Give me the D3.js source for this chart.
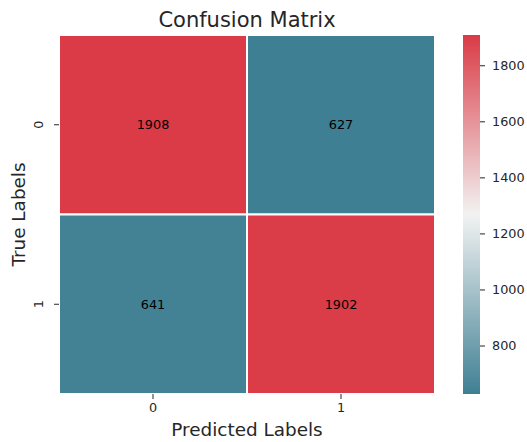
<!DOCTYPE html>
<html>
<head>
<meta charset="utf-8">
<script src="https://cdn.jsdelivr.net/npm/d3@7"></script>
<style>
  body { margin: 0; background: #fff; }
  svg { display: block; font-family: "DejaVu Sans", sans-serif; }
</style>
</head>
<body>
<script>
// data
const predictedLabels = ["0", "1"];
const trueLabels = ["0", "1"];
const counts = [
  [1908, 627],
  [641, 1902]
];
const colorbarTicks = [800, 1000, 1200, 1400, 1600, 1800];

const width = 527;
const height = 442;
const plotLeft = 59, plotRight = 435, plotTop = 35, plotBottom = 394;
const cbLeft = 463, cbRight = 480;

const cells = [];
trueLabels.forEach((t, i) => {
  predictedLabels.forEach((p, j) => {
    cells.push({ t: t, p: p, v: counts[i][j] });
  });
});

const vmin = d3.min(cells, d => d.v);
const vmax = d3.max(cells, d => d.v);

// seaborn diverging_palette(220, 10) look-alike
const color = d3.scaleLinear()
  .domain([vmin, (vmin + vmax) / 2, vmax])
  .range(["#3f7f93", "#f2f2f2", "#da3b46"])
  .interpolate(d3.interpolateRgb);

const x = d3.scaleBand().domain(predictedLabels).range([plotLeft, plotRight]);
const y = d3.scaleBand().domain(trueLabels).range([plotTop, plotBottom]);

const svg = d3.select("body").append("svg")
  .attr("width", width)
  .attr("height", height);

// CELLS
svg.append("g")
  .selectAll("rect")
  .data(cells)
  .enter()
  .append("rect")
  .attr("x", d => x(d.p))
  .attr("y", d => y(d.t))
  .attr("width", x.bandwidth())
  .attr("height", y.bandwidth())
  .attr("fill", d => color(d.v))
  .attr("stroke", "#fff")
  .attr("stroke-width", 2);

// annotations
svg.append("g")
  .selectAll("text")
  .data(cells)
  .enter()
  .append("text")
  .attr("x", d => x(d.p) + x.bandwidth() / 2)
  .attr("y", d => y(d.t) + y.bandwidth() / 2)
  .attr("text-anchor", "middle")
  .attr("dominant-baseline", "central")
  .attr("font-size", "12.8px")
  .attr("fill", "#000")
  .text(d => d.v);

// AXES
const xAxis = svg.append("g")
  .attr("transform", `translate(0,${plotBottom})`)
  .call(d3.axisBottom(x).tickSize(5).tickPadding(4));
xAxis.select(".domain").remove();
xAxis.selectAll("text").attr("font-size", "12.8px").attr("fill", "#262626").attr("font-family", "DejaVu Sans");
xAxis.selectAll("line").attr("stroke", "#262626");

const yAxis = svg.append("g")
  .attr("transform", `translate(${plotLeft},0)`)
  .call(d3.axisLeft(y).tickSize(5).tickPadding(4));
yAxis.select(".domain").remove();
yAxis.selectAll("text")
  .attr("font-size", "12.8px")
  .attr("fill", "#262626")
  .attr("font-family", "DejaVu Sans")
  .attr("x", 0).attr("dy", 0)
  .attr("text-anchor", "middle")
  .attr("transform", "translate(-16,0) rotate(-90)");
yAxis.selectAll("line").attr("stroke", "#262626");

// COLORBAR
const cb = d3.scaleLinear().domain([vmin, vmax]).range([plotBottom, plotTop]);
const grad = svg.append("defs").append("linearGradient")
  .attr("id", "cbgrad")
  .attr("x1", 0).attr("y1", 1).attr("x2", 0).attr("y2", 0);
d3.range(0, 1.0001, 0.05).forEach(f => {
  grad.append("stop")
    .attr("offset", f)
    .attr("stop-color", color(vmin + f * (vmax - vmin)));
});
svg.append("rect")
  .attr("x", cbLeft)
  .attr("y", plotTop)
  .attr("width", cbRight - cbLeft)
  .attr("height", plotBottom - plotTop)
  .attr("fill", "url(#cbgrad)");

const cbAxis = svg.append("g")
  .attr("transform", `translate(${cbRight},0)`)
  .call(d3.axisRight(cb).tickValues(colorbarTicks).tickFormat(d3.format("d")).tickSize(5).tickPadding(7));
cbAxis.select(".domain").remove();
cbAxis.selectAll("text").attr("font-size", "12.8px").attr("fill", "#262626").attr("font-family", "DejaVu Sans");
cbAxis.selectAll("line").attr("stroke", "#262626");

// TITLES
svg.append("text")
  .attr("x", (plotLeft + plotRight) / 2)
  .attr("y", 27)
  .attr("text-anchor", "middle")
  .attr("font-size", "21px")
  .attr("fill", "#262626")
  .text("Confusion Matrix");

svg.append("text")
  .attr("x", (plotLeft + plotRight) / 2)
  .attr("y", 436)
  .attr("text-anchor", "middle")
  .attr("font-size", "18.4px")
  .attr("fill", "#262626")
  .text("Predicted Labels");

svg.append("text")
  .attr("transform", `translate(25,${(plotTop + plotBottom) / 2}) rotate(-90)`)
  .attr("text-anchor", "middle")
  .attr("font-size", "18.4px")
  .attr("fill", "#262626")
  .text("True Labels");
</script>
</body>
</html>
